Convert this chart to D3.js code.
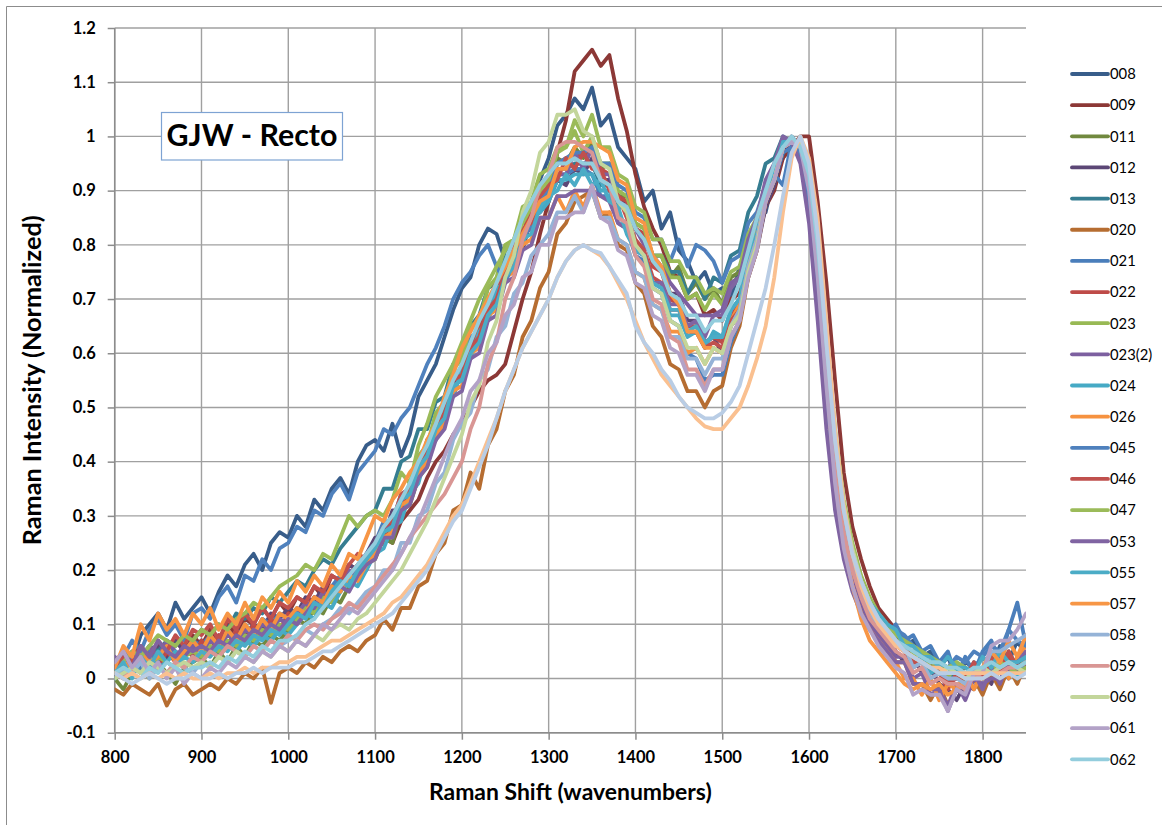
<!DOCTYPE html>
<html><head><meta charset="utf-8">
<script src="https://cdn.jsdelivr.net/npm/d3@7"></script>
<style>body{margin:0;background:#fff}svg{display:block}</style>
</head><body>
<svg id="chart" width="1162" height="825"></svg>
<script>
// Raman shift sampling positions (wavenumbers)
const shift = [800,810,820,830,840,850,860,870,880,890,900,910,920,930,940,950,960,970,980,990,
1000,1010,1020,1030,1040,1050,1060,1070,1080,1090,1100,1110,1120,1130,1140,1150,1160,1170,1180,1190,
1200,1210,1220,1230,1240,1250,1260,1270,1280,1290,1300,1310,1320,1330,1340,1350,1360,1370,1380,1390,
1400,1410,1420,1430,1440,1450,1460,1470,1480,1490,1500,1510,1520,1530,1540,1550,1560,1570,1580,1590,
1600,1610,1620,1630,1640,1650,1660,1670,1680,1690,1700,1710,1720,1730,1740,1750,1760,1770,1780,1790,
1800,1810,1820,1830,1840,1850];

const s008 = [.02,.05,.03,.08,.10,.12,.09,.14,.11,.13, .15,.12,.16,.19,.17,.21,.23,.20,.25,.27,
.26,.30,.28,.33,.31,.35,.37,.34,.40,.43, .44,.42,.47,.41,.45,.52,.55,.58,.63,.68,
.72,.74,.80,.83,.82,.77,.80,.86,.84,.92, .96,1.02,1.04,1.07,1.05,1.09,1.02,1.04,.98,.96,
.94,.88,.90,.83,.86,.79,.77,.73,.75,.71, .72,.70,.76,.79,.85,.86,.93,.96,1.0,.98,
.94,.80,.62,.43,.30,.22,.17,.14,.11,.09, .08,.06,.07,.04,.05,.02,.04,.0,.03,.02, .04,.02,.06,.03,.07,.04];
const s009 = [.01,.03,.02,.05,.04,.06,.03,.07,.05,.08, .06,.09,.07,.10,.08,.11,.10,.13,.11,.14,
.12,.15,.14,.17,.15,.19,.18,.21,.20,.23, .24,.26,.25,.29,.31,.33,.37,.40,.42,.45,
.47,.50,.53,.55,.56,.58,.64,.70,.75,.82, .88,.97,1.03,1.12,1.14,1.16,1.13,1.15,1.07,1.01,
.93,.87,.83,.80,.75,.74,.70,.71,.67,.68, .66,.70,.71,.77,.80,.87,.90,.96,.98,1.0,
1.0,.88,.73,.55,.38,.28,.22,.17,.13,.11, .09,.07,.06,.04,.03,.02,.02,.01,.02,.01, .02,.03,.01,.04,.02,.03];
const s011 = [.0,-.02,.01,.02,.0,.03,.01,-.01,.02,.03, .04,.02,.05,.03,.06,.04,.07,.06,.08,.07,
.09,.11,.10,.13,.12,.15,.14,.17,.19,.21, .22,.26,.25,.31,.32,.37,.39,.45,.47,.54,
.56,.62,.63,.69,.71,.77,.78,.85,.86,.91, .92,.96,.95,.98,.96,.99,.94,.95,.89,.89,
.84,.83,.78,.78,.74,.76,.71,.73,.70,.72, .69,.74,.75,.81,.83,.90,.92,.98,.99,.98,
.93,.79,.61,.42,.29,.21,.16,.12,.10,.08, .06,.07,.04,.05,.02,.03,.0,.01,-.01,.02, .0,.03,.01,.04,.01,.03];
const s012 = [.02,.04,.01,.05,.03,.06,.04,.07,.05,.06, .07,.05,.08,.06,.09,.08,.10,.09,.12,.11,
.13,.12,.15,.14,.17,.16,.19,.21,.20,.23, .26,.26,.31,.31,.36,.38,.44,.46,.51,.53,
.58,.60,.65,.66,.71,.73,.78,.79,.85,.86, .88,.92,.91,.94,.93,.96,.92,.92,.88,.88,
.83,.81,.77,.76,.71,.71,.66,.66,.62,.63, .60,.65,.67,.74,.79,.87,.91,.97,.99,.97,
.90,.75,.56,.38,.26,.19,.15,.11,.09,.07, .05,.03,.04,.01,.02,-.01,-.02,-.04,-.01,-.02, .01,-.01,.03,.0,.04,.02];
const s013 = [.01,.03,.02,.04,.06,.05,.07,.06,.08,.07, .09,.08,.10,.09,.12,.11,.13,.12,.15,.14,
.16,.18,.17,.20,.22,.21,.24,.26,.28,.30, .31,.35,.35,.40,.41,.46,.46,.51,.52,.58,
.59,.65,.67,.72,.73,.79,.80,.85,.86,.90, .90,.94,.94,.95,.95,.95,.91,.91,.87,.87,
.83,.82,.78,.78,.75,.75,.71,.74,.70,.74, .73,.78,.79,.86,.89,.95,.96,1.0,.99,.97,
.90,.76,.58,.40,.28,.21,.16,.12,.10,.08, .06,.07,.03,.04,.01,.02,-.01,.02,.0,.03, .0,.04,.01,.05,.02,.04];
const s020 = [-.02,-.03,-.01,-.02,-.03,-.01,-.05,-.02,-.01,-.03, -.02,-.01,-.02,.0,-.01,.01,.0,.02,-.045,.01,
.02,.01,.03,.02,.04,.03,.05,.06,.05,.07, .08,.11,.09,.13,.13,.17,.18,.23,.25,.31,
.32,.38,.35,.43,.46,.53,.56,.63,.66,.72, .75,.82,.84,.88,.89,.90,.85,.86,.80,.79,
.73,.71,.65,.63,.58,.57,.53,.53,.50,.53, .54,.61,.65,.74,.79,.88,.92,.98,.99,.98,
.92,.77,.57,.38,.25,.18,.13,.10,.08,.06, .03,.03,-.01,-.01,-.04,-.01,-.05,-.02,-.03,.0, -.03,.01,-.02,.02,-.01,.03];
const s021 = [.03,.01,.04,.02,.05,.03,.06,.04,.05,.07, .06,.08,.05,.09,.07,.10,.08,.11,.10,.12,
.11,.13,.12,.15,.14,.17,.19,.18,.21,.23, .25,.29,.29,.34,.35,.41,.43,.48,.50,.56,
.57,.63,.64,.70,.71,.76,.77,.82,.83,.88, .89,.93,.93,.94,.94,.93,.89,.89,.84,.83,
.78,.77,.72,.71,.66,.65,.60,.59,.55,.56, .56,.62,.66,.75,.80,.89,.93,.91,.99,.96,
.86,.70,.52,.35,.24,.18,.14,.11,.09,.08, .10,.07,.08,.05,.06,.03,.05,.0,.04,.01, .05,.07,.03,.09,.14,.06];
const s022 = [.01,.0,.03,.01,.04,.02,.05,.03,.06,.04, .07,.05,.08,.06,.09,.07,.10,.08,.11,.09,
.12,.10,.13,.15,.14,.17,.16,.19,.21,.20, .24,.25,.29,.31,.35,.37,.42,.44,.50,.52,
.57,.59,.65,.67,.72,.74,.80,.82,.87,.88, .91,.95,.96,.96,.97,.97,.94,.93,.89,.88,
.83,.82,.76,.75,.70,.69,.65,.65,.62,.63, .62,.67,.69,.77,.81,.89,.92,.98,.99,.98,
.92,.78,.59,.40,.28,.20,.16,.12,.10,.08, .06,.05,.02,.03,.0,.01,-.02,.01,-.01,.01, .0,.03,-.01,.04,.01,.02];
const s023 = [.0,.02,.01,.03,.02,.04,.03,.02,.04,.05, .04,.06,.05,.07,.06,.08,.07,.09,.08,.10,
.09,.11,.13,.12,.15,.14,.17,.19,.18,.21, .23,.27,.28,.33,.35,.41,.43,.49,.51,.57,
.59,.65,.66,.72,.74,.80,.81,.87,.88,.93, .94,.98,.98,1.01,.97,1.0,.95,.95,.90,.89,
.84,.83,.78,.78,.74,.74,.70,.71,.68,.71, .69,.73,.74,.80,.83,.90,.93,.99,.99,.99,
.94,.81,.63,.44,.31,.23,.18,.14,.11,.09, .07,.07,.04,.05,.02,.03,.0,.03,.0,.01, .0,.03,.02,.02,.01,.04];
const s023b = [.04,.02,.05,.03,.06,.04,.07,.05,.04,.06, .05,.07,.06,.08,.07,.09,.08,.10,.09,.11,
.10,.12,.14,.13,.16,.15,.18,.20,.19,.22, .24,.28,.28,.33,.34,.39,.41,.47,.49,.55,
.56,.61,.63,.68,.70,.75,.77,.82,.83,.88, .89,.93,.93,.97,.94,.98,.93,.93,.88,.87,
.83,.80,.78,.76,.73,.71,.69,.67,.67,.67, .68,.73,.74,.81,.84,.91,.94,.99,.99,.97,
.90,.74,.55,.37,.25,.18,.14,.10,.08,.06, .04,.04,.0,.01,-.03,-.02,-.05,-.01,-.04,.0, -.01,.0,.0,.02,.01,.03];
const s024 = [.02,.0,.03,.01,.04,.02,.03,.05,.02,.04, .03,.05,.04,.06,.05,.07,.06,.08,.07,.09,
.08,.10,.12,.11,.14,.13,.16,.18,.17,.20, .23,.24,.28,.29,.34,.36,.42,.44,.50,.52,
.57,.59,.64,.66,.72,.73,.79,.80,.85,.86, .88,.92,.92,.93,.93,.93,.90,.90,.85,.84,
.79,.78,.73,.72,.67,.67,.63,.64,.61,.64, .63,.68,.70,.78,.82,.90,.93,.99,.99,.98,
.92,.78,.59,.41,.29,.22,.17,.13,.11,.09, .07,.06,.03,.04,.01,.02,.01,.02,-.01,.02, .01,.02,.02,.03,.0,.04];
const s026 = [.01,.03,.02,.05,.03,.04,.06,.03,.05,.07, .05,.08,.06,.09,.07,.10,.08,.11,.09,.12,
.11,.13,.12,.15,.14,.17,.16,.19,.18,.21, .23,.26,.27,.32,.33,.38,.40,.45,.47,.53,
.54,.60,.61,.67,.68,.74,.75,.80,.81,.85, .85,.89,.86,.90,.87,.91,.86,.86,.81,.80,
.75,.74,.69,.68,.64,.64,.60,.61,.58,.61, .60,.66,.69,.77,.82,.90,.93,.99,.99,.98,
.91,.75,.55,.36,.24,.17,.12,.09,.07,.05, .03,.0,.0,-.03,.0,-.04,-.01,-.02,.01,-.02, .01,.02,.05,.0,.04,.06];
const s045 = [.0,.04,.07,.05,.09,.11,.08,.10,.07,.12, .13,.11,.15,.17,.14,.19,.18,.22,.20,.24,
.25,.28,.27,.31,.30,.34,.36,.33,.38,.40, .42,.46,.45,.48,.50,.54,.58,.61,.65,.70,
.73,.75,.78,.80,.76,.73,.77,.81,.84,.88, .90,.95,.96,.97,.97,.98,.95,.95,.91,.90,
.86,.85,.81,.81,.77,.81,.76,.80,.79,.77, .73,.77,.78,.84,.86,.91,.92,.97,.98,.97,
.89,.74,.56,.38,.27,.21,.17,.14,.12,.10, .09,.08,.06,.05,.04,.03,.02,.04,.03,.05, .04,.06,.05,.09,.07,.06];
const s046 = [.02,.04,.03,.06,.04,.07,.05,.08,.06,.09, .08,.10,.07,.11,.09,.12,.10,.13,.11,.14,
.13,.15,.14,.17,.16,.19,.18,.21,.23,.22, .25,.28,.29,.34,.35,.40,.42,.47,.49,.55,
.56,.61,.63,.68,.70,.75,.77,.83,.84,.89, .91,.92,.96,.94,.97,.94,.94,.90,.89,.85,
.81,.79,.74,.73,.68,.68,.64,.64,.61,.62, .61,.66,.68,.76,.80,.88,.92,.98,.99,.99,
.94,.80,.61,.42,.30,.22,.17,.13,.10,.09, .07,.06,.03,.03,.02,.02,-.01,.0,.0,.03, .0,.04,.01,.05,.02,.03];
const s047 = [.01,.03,.05,.04,.06,.08,.07,.06,.08,.07, .09,.08,.10,.09,.11,.12,.14,.13,.15,.17,
.18,.19,.21,.20,.23,.22,.26,.30,.28,.30, .31,.30,.33,.38,.36,.43,.47,.52,.55,.58,
.62,.66,.70,.73,.76,.79,.81,.84,.87,.90, .92,.97,.98,1.03,1.0,1.04,.98,.98,.93,.92,
.87,.86,.81,.81,.77,.77,.74,.74,.71,.72, .71,.75,.76,.82,.85,.91,.94,.99,.99,.99,
.95,.82,.64,.46,.33,.25,.19,.15,.12,.10, .08,.07,.06,.05,.04,.03,.02,.03,.02,.01, .02,.01,.03,.02,.01,.02];
const s053 = [.03,.05,.02,.06,.04,.07,.05,.04,.06,.05, .06,.05,.07,.06,.08,.07,.09,.08,.10,.09,
.11,.10,.12,.14,.13,.15,.17,.16,.19,.21, .22,.26,.26,.31,.32,.37,.39,.44,.46,.52,
.53,.59,.60,.66,.67,.73,.74,.79,.80,.85, .85,.89,.89,.90,.90,.90,.89,.88,.84,.83,
.79,.78,.73,.73,.69,.69,.65,.66,.63,.67, .67,.72,.74,.81,.85,.92,.95,1.0,.99,.95,
.84,.66,.46,.31,.22,.16,.12,.09,.07,.05, .03,.03,-.01,-.01,-.02,-.02,-.06,-.02,-.03,.01, -.02,.02,-.01,.03,.03,.05];
const s055 = [.01,.03,.0,.04,.02,.05,.03,.02,.04,.03, .05,.04,.06,.05,.07,.06,.08,.07,.09,.08,
.10,.12,.11,.14,.13,.16,.18,.17,.20,.22, .24,.27,.28,.33,.34,.39,.41,.46,.48,.54,
.55,.60,.62,.67,.69,.74,.76,.81,.82,.87, .89,.90,.93,.91,.94,.91,.92,.88,.87,.82,
.79,.78,.73,.72,.68,.68,.64,.65,.62,.63, .63,.68,.70,.78,.82,.90,.93,.99,.99,.98,
.92,.78,.59,.41,.29,.22,.17,.14,.12,.10, .09,.06,.06,.04,.04,.02,.04,.02,.02,.01, .04,.02,.05,.03,.03,.04];
const s057 = [.02,.06,.04,.10,.07,.12,.09,.11,.08,.12, .10,.13,.09,.12,.10,.14,.11,.15,.13,.16,
.14,.18,.16,.19,.17,.21,.19,.23,.22,.26, .30,.29,.33,.35,.38,.40,.44,.47,.52,.56,
.61,.64,.67,.70,.73,.76,.79,.82,.85,.88, .89,.94,.94,.98,.99,.99,.98,.97,.92,.91,
.85,.84,.78,.76,.71,.69,.64,.64,.61,.61, .60,.65,.68,.76,.81,.89,.92,.98,.99,.99,
.93,.78,.58,.38,.25,.17,.11,.07,.05,.03, .01,-.01,-.02,-.01,-.02,-.01,-.03,-.02,-.01,.0, .02,.05,.03,.07,.04,.08];
const s058 = [.0,.02,.01,.03,.0,.02,.01,.03,.02,.01, .03,.02,.04,.03,.05,.04,.06,.05,.07,.06,
.07,.08,.09,.08,.10,.11,.13,.12,.14,.16, .17,.20,.20,.25,.25,.30,.31,.36,.38,.44,
.47,.49,.55,.57,.63,.65,.71,.73,.78,.80, .82,.86,.86,.89,.86,.90,.85,.85,.81,.80,
.75,.74,.69,.68,.63,.63,.59,.59,.56,.59, .59,.65,.68,.76,.81,.89,.92,.98,.99,.99,
.93,.79,.60,.42,.29,.21,.16,.12,.10,.08, .06,.06,.02,.03,.0,.01,.0,.0,-.01,.02, .01,.05,.05,.06,.07,.08];
const s059 = [.01,.0,.02,.01,.03,.02,.01,.03,.02,.04, .03,.05,.04,.06,.05,.04,.06,.05,.07,.06,
.08,.07,.09,.10,.09,.11,.12,.14,.13,.15, .17,.19,.21,.23,.26,.28,.30,.32,.34,.37,
.40,.46,.50,.58,.62,.70,.74,.81,.85,.91, .93,.98,.99,.99,.98,.97,.92,.91,.85,.84,
.78,.76,.70,.69,.63,.62,.57,.57,.54,.57, .57,.63,.66,.75,.80,.88,.92,.98,.99,.98,
.92,.77,.57,.39,.27,.20,.15,.11,.09,.07, .05,.04,.01,.02,-.01,.0,-.01,-.01,-.02,.01, .0,.01,.01,.02,.02,.03];
const s060 = [.0,.01,.02,.01,.03,.02,.01,.02,.03,.02, .03,.02,.04,.03,.05,.04,.03,.05,.04,.06,
.05,.07,.06,.08,.07,.09,.10,.09,.11,.12, .14,.16,.18,.20,.23,.26,.29,.33,.37,.41,
.45,.51,.54,.62,.66,.74,.78,.86,.90,.97, .99,1.04,1.04,1.05,1.01,1.0,.95,.94,.88,.86,
.80,.78,.72,.71,.66,.65,.61,.61,.58,.61, .60,.65,.67,.75,.80,.88,.92,.98,.99,.99,
.95,.82,.64,.46,.32,.24,.18,.14,.11,.09, .07,.05,.04,.03,.02,.01,.02,.01,.0,.01, .02,.01,.02,.03,.02,.01];
const s061 = [.03,.05,.02,.04,.01,.03,.0,.02,-.01,.01, .0,.02,.01,.03,.02,.04,.03,.05,.04,.06,
.05,.07,.06,.08,.10,.09,.11,.13,.12,.14, .16,.18,.20,.23,.26,.29,.33,.37,.41,.45,
.48,.53,.55,.60,.62,.67,.69,.74,.75,.80, .80,.85,.85,.86,.86,.91,.85,.84,.79,.78,
.73,.72,.67,.66,.61,.60,.56,.56,.53,.57, .57,.63,.66,.74,.79,.88,.92,.98,.99,.98,
.90,.74,.54,.36,.24,.17,.12,.09,.06,.04, .02,.01,-.03,-.02,-.03,-.03,-.06,-.02,-.03,.01, .01,.06,.07,.07,.09,.12];
const s062 = [.01,.02,.01,.0,.02,.01,.03,.02,.01,.02, .02,.03,.02,.04,.03,.05,.04,.06,.05,.07,
.07,.08,.10,.11,.13,.15,.17,.19,.21,.23, .25,.28,.30,.33,.36,.40,.43,.47,.51,.55,
.58,.62,.66,.69,.73,.77,.81,.85,.88,.91, .93,.95,.95,.96,.95,.95,.92,.91,.88,.87,
.83,.81,.77,.75,.71,.70,.67,.67,.64,.66, .66,.69,.73,.79,.85,.90,.95,.98,1.0,.98,
.93,.80,.62,.44,.31,.23,.18,.14,.11,.09, .07,.06,.05,.04,.03,.03,.02,.02,.01,.02, .02,.03,.02,.03,.02,.03];
const s24 = [.01,.0,.01,.0,.01,.0,.01,.0,.01,.0, .0,.01,.0,.01,.01,.02,.01,.02,.02,.03,
.03,.04,.04,.05,.06,.07,.07,.08,.09,.10, .11,.12,.14,.15,.17,.19,.21,.24,.27,.30,
.32,.36,.40,.44,.48,.53,.57,.61,.64,.67, .70,.74,.77,.79,.80,.79,.78,.76,.73,.70,
.66,.62,.59,.56,.54,.52,.50,.48,.465,.46, .46,.48,.50,.54,.59,.65,.74,.86,.96,1.0,
.96,.85,.66,.46,.32,.23,.17,.13,.10,.08, .06,.05,.04,.03,.02,.02,.01,.01,.01,.01, .01,.01,.01,.01,.01,.01];
const s25 = [.01,.0,-.01,.0,.01,.0,-.01,.0,.0,.01, .0,.0,.01,.0,.01,.01,.02,.01,.02,.02,
.02,.03,.03,.04,.05,.05,.06,.07,.08,.09, .10,.11,.12,.14,.16,.18,.20,.23,.26,.29,
.31,.35,.39,.43,.48,.53,.57,.61,.64,.67, .70,.74,.77,.79,.80,.79,.785,.76,.735,.71,
.65,.62,.60,.57,.55,.52,.50,.49,.48,.48, .49,.51,.54,.60,.66,.72,.80,.89,.97,1.0,
.95,.82,.62,.44,.31,.23,.18,.14,.11,.09, .07,.05,.04,.03,.02,.01,.01,.01,.0,.0, .0,.01,.0,.01,.0,.01];

const seriesNames  = ["008","009","011","012","013","020","021","022","023","023(2)","024","026",
                      "045","046","047","053","055","057","058","059","060","061","062","series 24","series 25"];
const seriesValues = [s008,s009,s011,s012,s013,s020,s021,s022,s023,s023b,s024,s026,
                      s045,s046,s047,s053,s055,s057,s058,s059,s060,s061,s062,s24,s25];
const seriesColors = ["#385D8A","#8C3836","#71893F","#5C4776","#357D91","#B66D31","#4A7EBB","#BE4B48",
                      "#98B954","#7D60A0","#46AAC5","#F69240","#4F81BD","#C0504D","#9BBB59","#8064A2",
                      "#4BACC6","#F79646","#95B3D7","#D99694","#C3D69B","#B3A2C7","#93CDDD","#FAC090","#B9CDE5"];
const legendCount = 23; // entries visible in the legend
const xTicks = [800,900,1000,1100,1200,1300,1400,1500,1600,1700,1800];
const yTicks = [-0.1,0,0.1,0.2,0.3,0.4,0.5,0.6,0.7,0.8,0.9,1.0,1.1,1.2];
const xDomain = [800,1850];
const yDomain = [-0.1,1.2];
const chartTitle = "GJW - Recto";
const xTitle = "Raman Shift (wavenumbers)";
const yTitle = "Raman Intensity (Normalized)";

const FONT = "Lato, 'Open Sans', 'DejaVu Sans', sans-serif";
const svg = d3.select("#chart");
const L = 114.7, R = 1026, T = 28, B = 732.7;
const x = d3.scaleLinear().domain(xDomain).range([L, R]);
const y = d3.scaleLinear().domain(yDomain).range([B, T]);

// outer chart border (only left/top visible in frame)
svg.append("path").attr("d", "M6.5,830V6.5H1170").attr("fill","none").attr("stroke","#8C8C8C").attr("stroke-width",1);

// gridlines
const grid = svg.append("g");
grid.selectAll("line.h").data(yTicks).join("line")
  .attr("x1", L).attr("x2", R).attr("y1", d=>y(d)).attr("y2", d=>y(d))
  .attr("stroke","#A0A0A0").attr("stroke-width",1.4);
grid.selectAll("line.v").data(xTicks).join("line")
  .attr("x1", d=>x(d)).attr("x2", d=>x(d)).attr("y1", T).attr("y2", B)
  .attr("stroke","#A0A0A0").attr("stroke-width",1.4);

// axes
const yAxis = d3.axisLeft(y).tickValues(yTicks).tickSize(7).tickPadding(12)
  .tickFormat(d => String(+d.toFixed(1)));
const gy = svg.append("g").attr("transform", `translate(${L},0)`).call(yAxis);
const xAxis = d3.axisBottom(x).tickValues(xTicks).tickSize(7).tickPadding(12).tickFormat(d3.format("d"));
const gx = svg.append("g").attr("transform", `translate(0,${B})`).call(xAxis);
[gx, gy].forEach(g => {
  g.select(".domain").attr("stroke","#8C8C8C").attr("stroke-width",1.5);
  g.selectAll(".tick line").attr("stroke","#8C8C8C").attr("stroke-width",1.5);
  g.selectAll(".tick text").attr("fill","#000").attr("font-family",FONT)
    .attr("font-weight","bold").attr("font-size",16.5);
});
gx.select(".domain").attr("d", `M${L},0H${R}`);
gy.select(".domain").attr("d", `M0,${B}V${T}`);

// series lines
svg.append("clipPath").attr("id","plotclip").append("rect")
  .attr("x", L).attr("y", T-4).attr("width", R-L).attr("height", B-T+8);
const line = d3.line().x((d,i)=>x(shift[i])).y(d=>y(d));
const lines = svg.append("g").attr("clip-path","url(#plotclip)");
seriesValues.forEach((vals, k) => {
  const n = Math.min(vals.length, shift.length);
  lines.append("path").datum(vals.slice(0,n))
    .attr("d", line).attr("fill","none")
    .attr("stroke", seriesColors[k]).attr("stroke-width", 3.8)
    .attr("stroke-linejoin","round").attr("stroke-linecap","round");
});

function fitWidth(sel, target) {
  const w = sel.node().getComputedTextLength();
  const fs = parseFloat(sel.attr("font-size"));
  if (w > 0) sel.attr("font-size", fs * target / w);
}

// title box
svg.append("rect").attr("x",161.5).attr("y",112.5).attr("width",181).attr("height",47.5)
  .attr("fill","#fff").attr("stroke","#7EA3D3").attr("stroke-width",1.2);
const tt = svg.append("text").attr("x",252).attr("y",146).attr("text-anchor","middle")
  .attr("font-family",FONT).attr("font-weight","bold").attr("font-size",27).attr("fill","#000")
  .text(chartTitle);
fitWidth(tt, 171);

// axis titles
const xt = svg.append("text").attr("x",(L+R)/2).attr("y",800).attr("text-anchor","middle")
  .attr("font-family",FONT).attr("font-weight","bold").attr("font-size",19).attr("fill","#000").text(xTitle);
fitWidth(xt, 283);
const yt = svg.append("text").attr("transform",`translate(41,${(T+B)/2}) rotate(-90)`).attr("text-anchor","middle")
  .attr("font-family",FONT).attr("font-weight","bold").attr("font-size",19).attr("fill","#000").text(yTitle);
fitWidth(yt, 330);

// legend
const lg = svg.append("g");
seriesNames.slice(0, legendCount).forEach((name, i) => {
  const yy = 74 + i * 31.15;
  lg.append("line").attr("x1",1072).attr("x2",1108).attr("y1",yy).attr("y2",yy)
    .attr("stroke", seriesColors[i]).attr("stroke-width",3.8).attr("stroke-linecap","round");
  lg.append("text").attr("x",1110).attr("y",yy).attr("dy","0.36em")
    .attr("font-family",FONT).attr("font-size",14.8).attr("fill","#000").text(name);
});
</script>
</body></html>
